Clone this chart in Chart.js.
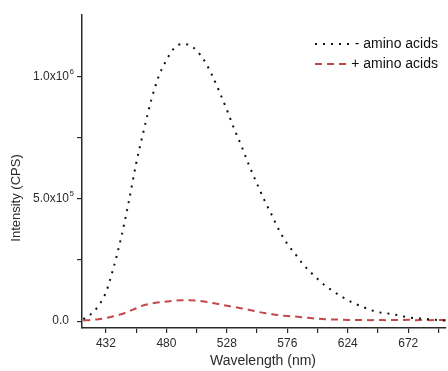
<!DOCTYPE html>
<html>
<head>
<meta charset="utf-8">
<script src="https://cdn.jsdelivr.net/npm/chart.js@4.4.1/dist/chart.umd.min.js"></script>
<style>
  body { margin: 0; background: #fff; }
  canvas { display: block; }
</style>
</head>
<body>
<canvas id="spectrum" width="448" height="371"></canvas>
<script>
//----------------------------------------------
// emission spectra, with and without amino acids
//----------------------------------------------
const wavelengths = [414, 420, 426, 432, 438, 444, 450, 456, 462, 468, 474, 480, 486, 492, 498,
  504, 510, 516, 522, 528, 534, 540, 546, 552, 558, 564, 570, 576, 582, 588, 594, 600, 606,
  612, 618, 624, 630, 636, 642, 648, 654, 660, 666, 672, 678, 684, 690, 696, 702];

const withoutAmino = [8000, 28000, 62000, 118000, 218000, 340000, 485000, 645000, 780000,
  905000, 1003000, 1068000, 1116000, 1134000, 1131000, 1107000, 1067000, 1009000, 940000,
  865000, 785000, 712000, 633000, 562000, 493000, 431000, 367000, 316000, 277000, 236000,
  203000, 173000, 146000, 124000, 104000, 86000, 71000, 58000, 46000, 37000, 33000, 28000,
  22000, 15000, 12000, 10000, 7000, 4000, 2000];

const withAmino = [3000, 5000, 8000, 13000, 20000, 28000, 40000, 53000, 65000, 72000, 77000,
  80000, 84000, 86000, 86000, 84000, 80000, 75000, 69000, 63000, 58000, 52000, 46000, 39000,
  33000, 28000, 24000, 21000, 19000, 16000, 13000, 10000, 8000, 7000, 6000, 5000, 5000,
  5000, 4000, 5000, 4000, 5000, 4000, 6000, 4000, 5000, 4000, 5000, 4000];

const seriesLabels = ['- amino acids', '+ amino acids'];

const xTicks = [432, 456, 480, 504, 528, 552, 576, 600, 624, 648, 672, 696];
const yTicks = [0, 250000, 500000, 750000, 1000000];
// mantissa drawn by the axis, exponent drawn raised next to it
const yTickText = { 0: '0.0', 500000: '5.0x10', 1000000: '1.0x10' };
const yTickExp = { 500000: '5', 1000000: '6' };

const FONT = "'Liberation Sans', Arial, sans-serif";
const INK = '#2b2b2b';

const toPoints = ys => wavelengths.map((x, i) => ({ x: x, y: ys[i] }));

// legend in the top right, tick exponents and the two axis titles
const decorations = {
  id: 'decorations',
  afterDraw(chart) {
    const ctx = chart.ctx;
    ctx.save();

    ctx.font = '14px ' + FONT;
    ctx.fillStyle = '#111';
    ctx.textAlign = 'right';
    ctx.textBaseline = 'middle';
    chart.data.datasets.forEach((ds, i) => {
      const y = 44 + i * 20;
      const textLeft = 438 - ctx.measureText(ds.label).width;
      ctx.fillText(ds.label, 438, y);
      ctx.beginPath();
      ctx.strokeStyle = ds.borderColor;
      ctx.lineWidth = ds.borderWidth;
      ctx.setLineDash(ds.borderDash);
      ctx.moveTo(315, y);
      ctx.lineTo(textLeft - 2, y);
      ctx.stroke();
    });
    ctx.setLineDash([]);

    const yScale = chart.scales.y;
    ctx.fillStyle = INK;
    ctx.textAlign = 'left';
    ctx.font = '8px ' + FONT;
    Object.keys(yTickExp).forEach(v => {
      ctx.fillText(yTickExp[v], 69.5, yScale.getPixelForValue(Number(v)) - 5);
    });

    ctx.textAlign = 'center';
    ctx.font = '14px ' + FONT;
    ctx.fillText('Wavelength (nm)', 263, 361);

    ctx.font = '13px ' + FONT;
    ctx.translate(16, 198);
    ctx.rotate(-Math.PI / 2);
    ctx.fillText('Intensity (CPS)', 0, 0);
    ctx.restore();
  }
};

const spectrum = new Chart(document.getElementById('spectrum').getContext('2d'), {
  type: 'line',
  data: {
    datasets: [{
      label: seriesLabels[0],
      data: toPoints(withoutAmino),
      borderColor: '#111',
      borderWidth: 2,
      borderDash: [2, 6],
      pointRadius: 0,
      cubicInterpolationMode: 'monotone'
    }, {
      label: seriesLabels[1],
      data: toPoints(withAmino),
      borderColor: '#c4474a',
      borderWidth: 2,
      borderDash: [7, 5],
      pointRadius: 0,
      cubicInterpolationMode: 'monotone'
    }]
  },
  options: {
    responsive: false,
    animation: false,
    layout: { padding: { top: 13, right: 2, left: 0, bottom: 0 } },
    plugins: { legend: { display: false }, tooltip: { enabled: false } },
    scales: {
      x: {
        type: 'linear',
        min: 413,
        max: 702,
        afterFit: s => { s.height = 43; },
        afterBuildTicks: s => { s.ticks = xTicks.map(v => ({ value: v })); },
        grid: { drawOnChartArea: false, drawTicks: true, tickLength: 5, color: INK, lineWidth: 1.2 },
        border: { display: true, color: INK, width: 1.5 },
        ticks: {
          autoSkip: false,
          maxRotation: 0,
          padding: 3,
          color: INK,
          font: { family: FONT, size: 12 },
          callback: v => ((v - 432) % 48 === 0 ? String(v) : '')
        }
      },
      y: {
        min: -28000,
        max: 1252000,
        afterFit: s => { s.width = 82; },
        afterBuildTicks: s => { s.ticks = yTicks.map(v => ({ value: v })); },
        grid: { drawOnChartArea: false, drawTicks: true, tickLength: 5, color: INK, lineWidth: 1.2 },
        border: { display: true, color: INK, width: 1.5 },
        ticks: {
          autoSkip: false,
          padding: 8,
          color: INK,
          font: { family: FONT, size: 12 },
          callback: v => yTickText[v] || ''
        }
      }
    }
  },
  plugins: [decorations]
});
</script>
</body>
</html>
